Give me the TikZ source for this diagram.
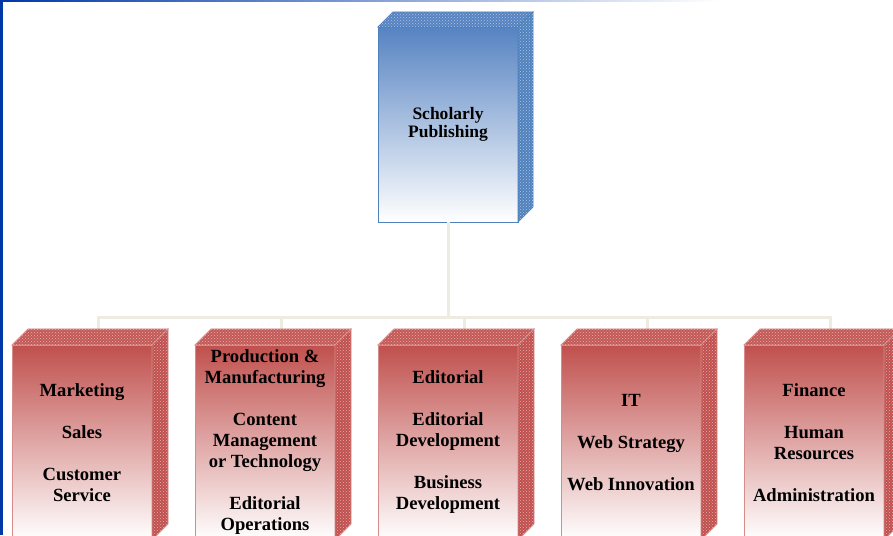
\documentclass[tikz,border=0pt]{standalone}
\usepackage{fontspec}
\setmainfont{Liberation Serif}
\usetikzlibrary{positioning,patterns}
\definecolor{pubblue}{RGB}{79,129,189}
\definecolor{pubtop}{RGB}{86,131,194}
\definecolor{deptred}{RGB}{192,80,77}
\definecolor{deptline}{RGB}{214,140,138}
\definecolor{connline}{RGB}{238,236,225}
\definecolor{slideblue}{RGB}{0,56,168}

\tikzset{
  box/.style={rectangle, minimum width=140pt, minimum height=195pt,
    inner sep=0pt, outer sep=0pt, align=center, line width=0.8pt,
    font=\bfseries\fontsize{18.6}{21}\selectfont},
  pubbox/.style={box, draw=pubblue, top color=pubtop, middle color=pubtop!30!white,
    bottom color=white, font=\bfseries\fontsize{17.5}{18}\selectfont},
  deptbox/.style={box, draw=deptline, top color=deptred, middle color=deptred!30!white,
    bottom color=white},
  conn/.style={draw=connline, line width=3pt},
  redface/.style={fill=#1, draw=deptline, line width=0.8pt,
    postaction={pattern=crosshatch dots, pattern color=white!55!deptred}},
  blueface/.style={fill=#1, draw=pubblue, line width=0.8pt,
    postaction={pattern=crosshatch dots, pattern color=white!55!pubblue}},
}

\begin{document}
\begin{tikzpicture}[x=1pt,y=1pt]
  \useasboundingbox (0,0) rectangle (893,535);
  \clip (0,0) rectangle (893,535);
  % slide edges
  \fill[slideblue] (0,0) rectangle (3,535);
  \shade[left color=slideblue, right color=white] (0,533) rectangle (720,535);

  % boxes
  \node[pubbox] (pub) at (448,410.5) {Scholarly\\Publishing};
  \node[deptbox] (mkt) at (82,92.5) {Marketing\\[21pt]Sales\\[21pt]Customer\\Service};
  \node[deptbox, right=43pt of mkt] (prod) {Production \&\\Manufacturing\\[21pt]Content\\Management\\or Technology\\[21pt]Editorial\\Operations};
  \node[deptbox, right=43pt of prod] (edit) {Editorial\\[21pt]Editorial\\Development\\[21pt]Business\\Development};
  \node[deptbox, right=43pt of edit] (it) {IT\\[21pt]Web Strategy\\[21pt]Web Innovation};
  \node[deptbox, right=43pt of it] (fin) {Finance\\[21pt]Human\\Resources\\[21pt]Administration};

  % connectors
  \foreach \n in {mkt,prod,edit,it,fin}
    \coordinate (\n-top) at ([shift={(16,16)}]\n.north);
  \coordinate (bus) at (pub.south |- 0,217);
  \draw[conn] (pub.south) -- (bus);
  \draw[conn] (mkt-top) -- (mkt-top |- bus) -- (fin-top |- bus) -- (fin-top);
  \foreach \n in {prod,edit,it}
    \draw[conn] (\n-top) -- (\n-top |- bus);

  % 3d faces
  \path[blueface=pubtop] (pub.north west) -- ++(15,15) -- ([shift={(15,15)}]pub.north east)
    -- (pub.north east) -- cycle;
  \path[blueface=pubblue] (pub.north east) -- ++(15,15) -- ([shift={(15,15)}]pub.south east)
    -- (pub.south east) -- cycle;
  \foreach \n in {mkt,prod,edit,it,fin}{
    \path[redface=deptred!95!white] (\n.north west) -- ++(16,16) -- ([shift={(16,16)}]\n.north east)
      -- (\n.north east) -- cycle;
    \path[redface=deptred] (\n.north east) -- ++(16,16) -- ([shift={(16,16)}]\n.south east)
      -- (\n.south east) -- cycle;
  }
\end{tikzpicture}
\end{document}
